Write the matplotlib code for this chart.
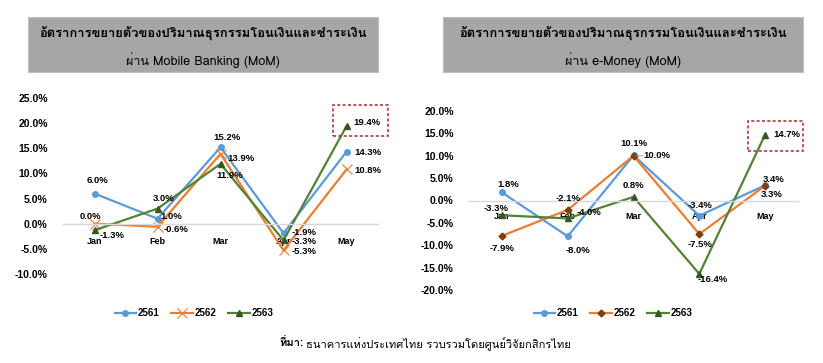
import matplotlib
matplotlib.use('Agg')
import matplotlib.pyplot as plt
from matplotlib import font_manager
from matplotlib.ft2font import FT2Font
from matplotlib.patches import Rectangle

months = ['Jan', 'Feb', 'Mar', 'Apr', 'May']
years = ['2561', '2562', '2563']

# growth of transfer/payment volume via Mobile Banking (MoM, %)
mb_2561 = [6.0, 1.0, 15.2, -1.9, 14.3]
mb_2562 = [0.0, -0.6, 13.9, -5.3, 10.8]
mb_2563 = [-1.3, 3.0, 11.9, -3.3, 19.4]

# growth via e-Money (MoM, %)
em_2561 = [1.8, -8.0, 10.1, -3.4, 3.4]
em_2562 = [-7.9, -2.1, 10.0, -7.5, 3.3]
em_2563 = [-3.3, -4.0, 0.8, -16.4, 14.7]

title1 = 'อัตราการขยายตัวของปริมาณธุรกรรมโอนเงินและชำระเงิน'
title2_left = 'ผ่าน Mobile Banking (MoM)'
title2_right = 'ผ่าน e-Money (MoM)'
source_bold = 'ที่มา:'
source_text = 'ธนาคารแห่งประเทศไทย รวบรวมโดยศูนย์วิจัยกสิกรไทย'


def find_thai_font():
    # look for any installed font that has Thai glyphs
    for f in font_manager.fontManager.ttflist:
        try:
            if ord('ก') in FT2Font(f.fname).get_charmap():
                return f.name
        except Exception:
            pass
    return 'DejaVu Sans'


thai = find_thai_font()
plt.rcParams['font.family'] = ['Liberation Sans', 'DejaVu Sans']
thai_fam = [thai, 'Liberation Sans', 'DejaVu Sans']

blue = '#5b9bd5'
orange = '#ed7d31'
green = '#548235'
W, H = 823, 363

fig = plt.figure(figsize=(8.23, 3.63), dpi=100)


def px(x, y, w, h):
    return [x / W, 1 - (y + h) / H, w / W, h / H]


def panel(rect, s1, s2, s3, ylim, offs, m2, m2c, m2s, box, xpad, leader=None):
    ax = fig.add_axes(px(*rect))
    x = range(len(months))
    l1, = ax.plot(x, s1, color=blue, lw=1.6, marker='o', ms=4, mfc=blue, mec=blue)
    l2, = ax.plot(x, s2, color=orange, lw=1.6, marker=m2, ms=m2s, mfc=m2c, mec=m2c,
                  mew=0.8 if m2 == 'x' else 1)
    l3, = ax.plot(x, s3, color=green, lw=1.6, marker='^', ms=4, mfc='#375623', mec='#375623')
    # spine position first: it resets tick label settings
    for s in ['top', 'right', 'left']:
        ax.spines[s].set_visible(False)
    ax.spines['bottom'].set_position(('data', 0))
    ax.spines['bottom'].set_color('#d9d9d9')
    ax.spines['bottom'].set_linewidth(1)
    ax.set_xlim(-0.5, len(months) - 0.5)
    ax.set_ylim(*ylim)
    ax.set_yticks(range(ylim[0], ylim[1] + 1, 5))
    ax.set_yticklabels(['%.1f%%' % v for v in range(ylim[0], ylim[1] + 1, 5)],
                       fontsize=7.5, fontweight='bold')
    ax.tick_params(axis='y', length=0, pad=11)
    ax.tick_params(axis='x', length=0, pad=xpad)
    ax.set_xticks(list(x))
    ax.set_xticklabels(months, fontsize=6.5, fontweight='bold')
    for series, off in zip([s1, s2, s3], offs):
        for i, v in enumerate(series):
            ax.annotate('%.1f%%' % v, (i, v), xytext=off[i], textcoords='offset pixels',
                        ha='center', va='center', fontsize=6.8, fontweight='bold')
    if leader is not None:
        i, v, dx = leader
        ax.annotate('', (i, v), xytext=(dx, 0), textcoords='offset pixels',
                    arrowprops=dict(arrowstyle='-', color='#a6a6a6', lw=0.7))
    bx, by, bw, bh = box
    fig.patches.append(Rectangle((bx / W, 1 - (by + bh) / H), bw / W, bh / H,
                                 transform=fig.transFigure, fill=False,
                                 ec='#a52a2a', lw=1.1, ls=(0, (2, 1.5))))
    return ax, [l1, l2, l3]


mb_offs = [
    [(3, 13), (14, 2), (6, 10), (21, 1), (21, -1)],
    [(-4, 7), (19, -3), (20, -5), (21, -1), (21, -1)],
    [(18, -5), (6, 10), (9, -12), (21, -1), (20, 4)],
]
em_offs = [
    [(6, 8), (10, -14), (0, 12), (1, 10), (9, 6)],
    [(0, -13), (0, 11), (23, 0), (1, -10), (7, -9)],
    [(-6, 7), (21, 6), (0, 11), (13, -6), (22, 0)],
]

ax1, h1 = panel((63, 98, 315, 176), mb_2561, mb_2562, mb_2563, (-10, 25), mb_offs,
                'x', orange, 7, (333, 105, 55, 31), 9.5)
ax2, h2 = panel((469, 111, 329, 179), em_2561, em_2562, em_2563, (-20, 20), em_offs,
                'D', '#843c0c', 3.5, (748, 121, 55, 30), 8.5, leader=(2, 10.0, 12))

# grey title boxes
for x0, w, t2 in [(28, 350, title2_left), (443, 360, title2_right)]:
    fig.patches.append(Rectangle((x0 / W, 1 - 72 / H), w / W, 55 / H,
                                 transform=fig.transFigure, fc='#a6a6a6', ec='#bfbfbf', lw=0.8))
    fig.text((x0 + w / 2) / W, 1 - 33 / H, title1, ha='center', va='center',
             fontsize=9.4, fontweight='bold', family=thai_fam)
    fig.text((x0 + w / 2) / W, 1 - 60 / H, t2, ha='center', va='center',
             fontsize=9, family=thai_fam)

for handles, cx in [(h1, 194), (h2, 613)]:
    fig.legend(handles, years, loc='center', bbox_to_anchor=(cx / W, 1 - 313 / H),
               ncol=3, frameon=False, handlelength=2.2, handletextpad=0.2, columnspacing=1.2,
               prop={'size': 7, 'weight': 'bold'})

fig.text(303 / W, 1 - 343 / H, source_bold, ha='right', va='center', fontsize=8,
         fontweight='bold', family=thai_fam)
fig.text(306 / W, 1 - 343 / H, source_text, ha='left', va='center', fontsize=8,
         family=thai_fam)

fig.savefig('out.png', dpi=100)
